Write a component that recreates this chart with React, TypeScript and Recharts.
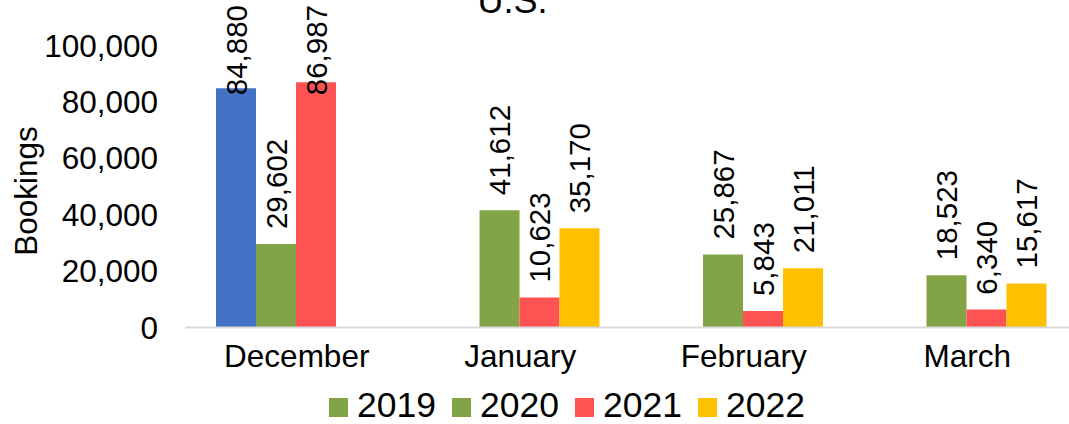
import React from 'react';
import { BarChart, Bar, XAxis, YAxis, Cell, LabelList } from 'recharts';

const categories = ['December', 'January', 'February', 'March'];
const seriesNames = ['2019', '2020', '2021', '2022'];
const values2019: (number | null)[] = [84880, null, null, null];
const values2020: (number | null)[] = [29602, 41612, 25867, 18523];
const values2021: (number | null)[] = [86987, 10623, 5843, 6340];
const values2022: (number | null)[] = [null, 35170, 21011, 15617];
const seriesValues = [values2019, values2020, values2021, values2022];
const seriesColors = ['#82A447', '#82A447', '#FF5353', '#FFC000'];
const pointColors2019 = ['#4472C4', '#82A447', '#82A447', '#82A447'];
const yTicks = [0, 20000, 40000, 60000, 80000, 100000];
const chartTitle = 'U.S.';
const yAxisTitle = 'Bookings';

const FONT = '"Liberation Sans", Arial, Helvetica, sans-serif';
const TICK_FONT = 31.5;
const LABEL_FONT = 29.5;
const LEGEND_FONT = 35.5;

const data = categories.map((month, i) => {
  const row: Record<string, any> = { month };
  seriesNames.forEach((name, s) => {
    row[name] = seriesValues[s][i];
  });
  return row;
});

const fmt = (v: number) => Number(v).toLocaleString('en-US');

const textWidthEm = (t: string) =>
  t.split('').reduce((acc, ch) => acc + (ch === ',' || ch === '.' ? 0.278 : 0.556), 0);

const renderValueLabel = (props: any) => {
  const { value } = props;
  if (value === null || value === undefined) return null;
  const vb = props.viewBox && props.viewBox.width !== undefined ? props.viewBox : props;
  const x = vb.x;
  const y = vb.y;
  const w = vb.width;
  const h = vb.height;
  if ([x, y, w, h].some((n) => typeof n !== 'number' || isNaN(n))) return null;
  const top = Math.min(y, y + h);
  const cx = x + w / 2;
  const text = fmt(value);
  const len = textWidthEm(text) * LABEL_FONT;
  let ay = top - 15;
  let anchor: 'start' | 'end' = 'start';
  if (ay - len < 5) {
    ay = 5;
    anchor = 'end';
  }
  const tx = cx + 0.36 * LABEL_FONT;
  return (
    <text
      x={tx}
      y={ay}
      transform={`rotate(-90 ${tx} ${ay})`}
      textAnchor={anchor}
      fontSize={LABEL_FONT}
      fontFamily={FONT}
      fill="#000"
    >
      {text}
    </text>
  );
};

const renderYTitle = (props: any) => {
  const vb = props.viewBox || {};
  const x = (vb.x ?? 0) + 37;
  const y = (vb.y ?? 0) + (vb.height ?? 0) / 2 + 4.5;
  return (
    <text
      x={x}
      y={y}
      transform={`rotate(-90 ${x} ${y})`}
      textAnchor="middle"
      fontSize={TICK_FONT}
      fontFamily={FONT}
      fill="#000"
    >
      {yAxisTitle}
    </text>
  );
};

export default function App() {
  return (
    <div
      style={{
        position: 'absolute',
        left: 0,
        top: 0,
        width: 1069,
        height: 424,
        overflow: 'hidden',
        background: '#fff',
        fontFamily: FONT,
      }}
    >
      <BarChart
        width={1079}
        height={424}
        data={data}
        margin={{ top: 45.5, right: 0, bottom: 0, left: 0 }}
        barCategoryGap={31}
        barGap={0}
      >
        <XAxis
          dataKey="month"
          height={96.5}
          tickLine={false}
          tickSize={0}
          tickMargin={17.5}
          axisLine={{ stroke: '#D9D9D9', strokeWidth: 2 }}
          tick={{ fontSize: TICK_FONT, fill: '#000', fontFamily: FONT }}
          interval={0}
        />
        <YAxis
          width={185}
          domain={[0, 100000]}
          ticks={yTicks}
          tickFormatter={fmt}
          axisLine={false}
          tickLine={false}
          tickSize={0}
          tickMargin={27}
          tick={{ fontSize: TICK_FONT, fill: '#000', fontFamily: FONT }}
          label={{ content: renderYTitle }}
        />
        {seriesNames.map((name, s) => (
          <Bar key={name} dataKey={name} fill={seriesColors[s]} isAnimationActive={false}>
            {s === 0 && data.map((_, i) => <Cell key={i} fill={pointColors2019[i]} />)}
            <LabelList dataKey={name} content={renderValueLabel} />
          </Bar>
        ))}
      </BarChart>
      <svg
        width={1069}
        height={424}
        style={{ position: 'absolute', left: 0, top: 0, pointerEvents: 'none' }}
      >
        <text x={512.5} y={13} textAnchor="middle" fontSize={36} fontFamily={FONT} fill="#000">
          {chartTitle}
        </text>
        {seriesNames.map((name, s) => {
          const x0 = 329 + s * 123;
          return (
            <g key={name}>
              <rect x={x0} y={398} width={19} height={19} fill={seriesColors[s]} />
              <text x={x0 + 28} y={417} fontSize={LEGEND_FONT} fontFamily={FONT} fill="#000">
                {name}
              </text>
            </g>
          );
        })}
      </svg>
    </div>
  );
}
